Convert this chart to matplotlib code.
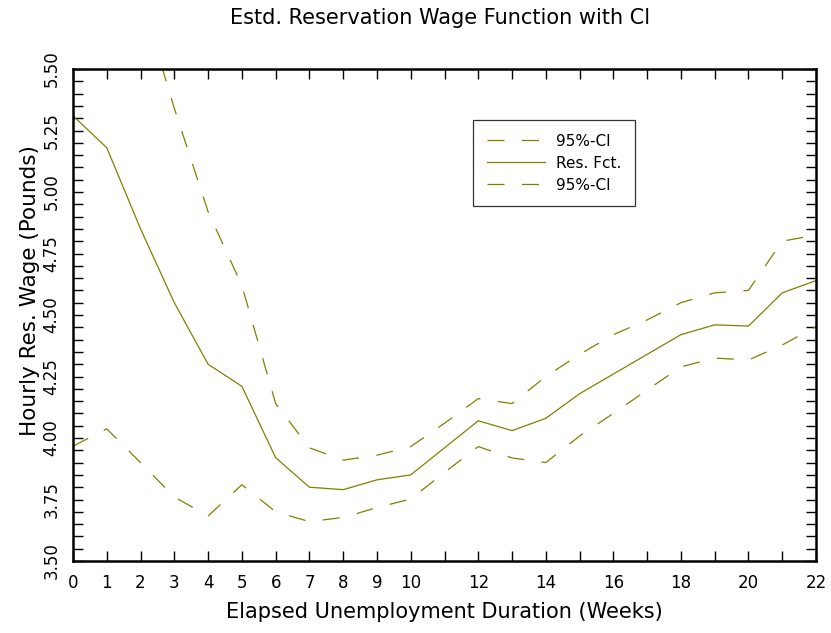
import numpy as np
import matplotlib
matplotlib.use("Agg")
import matplotlib.pyplot as plt
from matplotlib.ticker import MultipleLocator, FixedLocator

plt.rcParams['font.family'] = ['DejaVu Sans']
plt.rcParams['lines.scale_dashes'] = False

weeks = list(range(0, 23))
res_fct = [5.31, 5.18, 4.85, 4.55, 4.30, 4.21, 3.92, 3.80, 3.79, 3.83, 3.85,
           3.96, 4.07, 4.03, 4.08, 4.18, 4.26, 4.34, 4.42, 4.46, 4.455, 4.59, 4.64]
ci_upper = [6.65, 6.33, 5.80, 5.34, 4.92, 4.62, 4.14, 3.96, 3.91, 3.93, 3.965,
            4.06, 4.16, 4.14, 4.25, 4.34, 4.42, 4.48, 4.55, 4.59, 4.60, 4.80, 4.825]
ci_lower = [3.967, 4.037, 3.90, 3.76, 3.683, 3.81, 3.70, 3.66, 3.677, 3.717, 3.752,
            3.86, 3.965, 3.919, 3.90, 4.008, 4.10, 4.195, 4.289, 4.325, 4.317, 4.378, 4.453]

x_ticklabels = [0, 1, 2, 3, 4, 5, 6, 7, 8, 9, 10, 12, 14, 16, 18, 20, 22]
y_ticklabels = [3.50, 3.75, 4.00, 4.25, 4.50, 4.75, 5.00, 5.25, 5.50]

color = '#808000'
dash = (0, (17 / 1.389, 17.5 / 1.389))

fig = plt.figure(figsize=(8.31, 6.33), dpi=100)
ax = fig.add_axes([73 / 831, 1 - 561 / 633, (816 - 73) / 831, (561 - 69) / 633])

ax.plot(weeks, ci_upper, color=color, lw=0.9, linestyle=dash, label='95%-CI')
ax.plot(weeks, res_fct, color=color, lw=0.9, linestyle='-', label='Res. Fct.')
ax.plot(weeks, ci_lower, color=color, lw=0.9, linestyle=dash, label='95%-CI')

ax.set_xlim(0, 22)
ax.set_ylim(3.5, 5.5)

ax.xaxis.set_major_locator(FixedLocator(x_ticklabels))
ax.xaxis.set_minor_locator(MultipleLocator(1))
ax.set_xticklabels([str(v) for v in x_ticklabels])
ax.yaxis.set_major_locator(FixedLocator(y_ticklabels))
ax.yaxis.set_minor_locator(MultipleLocator(0.05))
ax.set_yticklabels([f"{v:.2f}" for v in y_ticklabels], rotation=90, va='center')

for which in ('major', 'minor'):
    ax.tick_params(axis='both', which=which, direction='in', length=7, width=1,
                   top=True, right=True, color='black')
ax.tick_params(axis='both', which='major', labelsize=12, pad=9)

for sp in ax.spines.values():
    sp.set_linewidth(1.8)
    sp.set_color('black')

fig.text(444.5 / 831, 1 - 612 / 633, 'Elapsed Unemployment Duration (Weeks)',
         ha='center', va='center', fontsize=15)
fig.text(30 / 831, 1 - 290.5 / 633, 'Hourly Res. Wage (Pounds)',
         ha='center', va='center', rotation=90, fontsize=15.5)
fig.text(440 / 831, 1 - 18 / 633, 'Estd. Reservation Wage Function with Cl',
         ha='center', va='center', fontsize=15)

leg = ax.legend(loc='upper left', bbox_to_anchor=((473 - 73) / 743, (561 - 120) / 492),
                fontsize=11, frameon=True, fancybox=False, edgecolor='black',
                handlelength=3.8, handletextpad=0.75, borderpad=0.9, labelspacing=0.45,
                borderaxespad=0)
leg.get_frame().set_linewidth(0.9)

fig.savefig('out.png', dpi=100)
